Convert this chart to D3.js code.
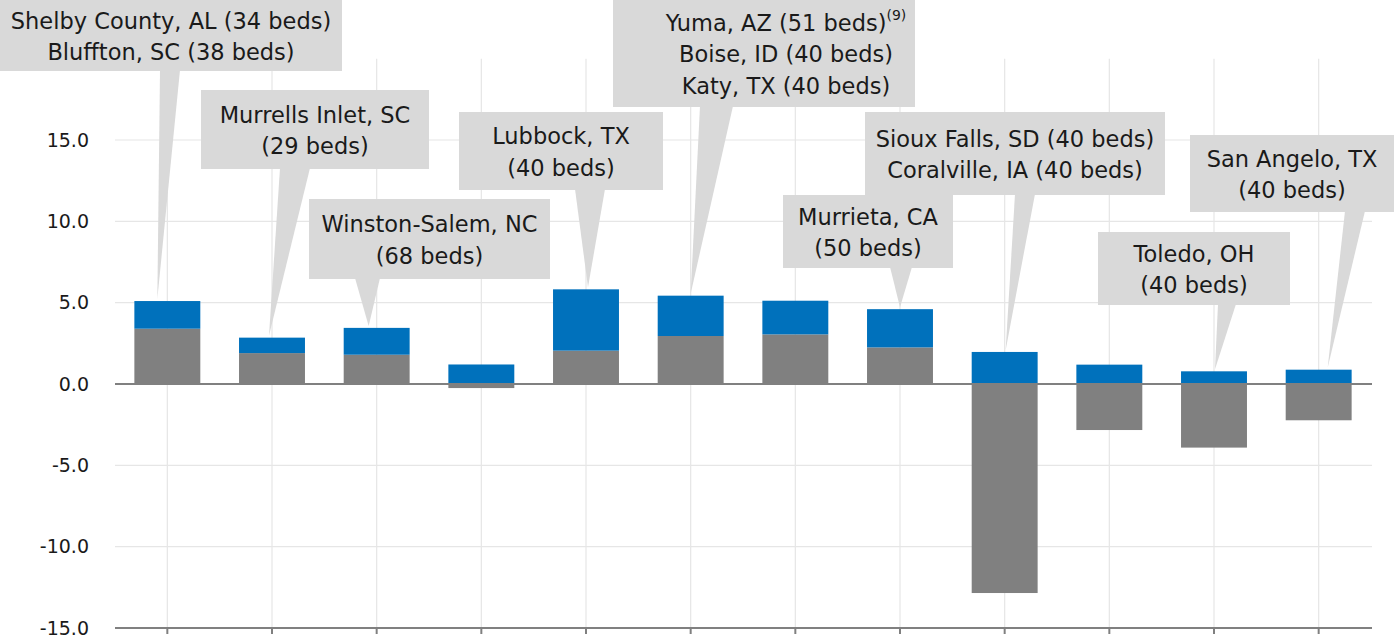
<!DOCTYPE html>
<html><head><meta charset="utf-8">
<script src="https://cdn.jsdelivr.net/npm/d3@7"></script>
<style>
html,body{margin:0;padding:0;background:#fff;}
svg{display:block;}
</style></head>
<body>
<svg id="chart" width="1400" height="638"></svg>
<script>
// ---- data ----
const categories = ["Shelby County / Bluffton","Murrells Inlet","Winston-Salem","Bar 4","Lubbock","Yuma / Boise / Katy","Bar 7","Murrieta","Sioux Falls / Coralville","Bar 10","Toledo","San Angelo"];
const grayValues = [3.4, 1.9, 1.8, -0.25, 2.05, 2.95, 3.05, 2.25, -12.85, -2.83, -3.91, -2.23];
const blueValues = [1.7, 0.95, 1.65, 1.2, 3.77, 2.48, 2.07, 2.35, 1.97, 1.19, 0.78, 0.88];
const yTicks = [-15, -10, -5, 0, 5, 10, 15];
const calloutBar = [0, 1, 2, 4, 5, 7, 8, 10, 11];
const calloutText = [
  ["Shelby County, AL (34 beds)", "Bluffton, SC (38 beds)"],
  ["Murrells Inlet, SC", "(29 beds)"],
  ["Winston-Salem, NC", "(68 beds)"],
  ["Lubbock, TX", "(40 beds)"],
  ["Yuma, AZ (51 beds)|(9)", "Boise, ID (40 beds)", "Katy, TX (40 beds)"],
  ["Murrieta, CA", "(50 beds)"],
  ["Sioux Falls, SD (40 beds)", "Coralville, IA (40 beds)"],
  ["Toledo, OH", "(40 beds)"],
  ["San Angelo, TX", "(40 beds)"]
];

// ---- layout (annotation placement, not data) ----
const calloutLayout = [
  {x:0,   y:0,   w:342, h:71,  b1:160,  b2:180,  dx:-10, tdx:0},
  {x:201, y:90,  w:228, h:79,  b1:280,  b2:310,  dx:-3,  tdx:0},
  {x:309, y:199, w:241, h:80,  b1:355,  b2:380,  dx:-8,  tdx:0},
  {x:459, y:112, w:204, h:78,  b1:575,  b2:605,  dx:2,   tdx:0},
  {x:613, y:0,   w:302, h:107, b1:700,  b2:733,  dx:0,   tdx:22},
  {x:783, y:195, w:170, h:73,  b1:890,  b2:912,  dx:0,   tdx:0},
  {x:865, y:112, w:300, h:83,  b1:1015, b2:1035, dx:1,   tdx:0},
  {x:1098,y:232, w:192, h:73,  b1:1218, b2:1236, dx:1,   tdx:0},
  {x:1190,y:135, w:204, h:77,  b1:1345, b2:1365, dx:9,   tdx:0}
];

const FONT = "'DejaVu Sans',sans-serif";
const BLUE = "#0071bc", GRAY = "#808080", CALL = "#d9d9d9", TXT = "#1a1a1a";

const svg = d3.select("#chart");
const x = d3.scaleBand().domain(d3.range(categories.length)).range([115, 1371]).paddingInner(0.37).paddingOuter(0.185);
const y = d3.scaleLinear().domain([-15, 15]).range([628, 140]);

// gridlines
const grid = svg.append("g");
grid.selectAll("line.h").data(yTicks.filter(t => t !== 0 && t !== -15)).join("line")
  .attr("x1", 115).attr("x2", 1372).attr("y1", d => y(d)).attr("y2", d => y(d))
  .attr("stroke", "#e6e6e6").attr("stroke-width", 1.2);
grid.selectAll("line.v").data(d3.range(categories.length)).join("line")
  .attr("x1", i => x(i) + x.bandwidth()/2).attr("x2", i => x(i) + x.bandwidth()/2)
  .attr("y1", y(20)).attr("y2", y(-15))
  .attr("stroke", "#e6e6e6").attr("stroke-width", 1.2);

// y axis labels
const yAxis = d3.axisLeft(y).tickValues(yTicks).tickFormat(d => d.toFixed(1)).tickSize(0).tickPadding(0);
const ya = svg.append("g").attr("transform", "translate(89,0)").call(yAxis);
ya.select(".domain").remove();
ya.selectAll("text").attr("font-family", FONT).attr("font-size", 19).attr("fill", TXT);

// bottom axis
const xAxis = d3.axisBottom(x).tickSize(6).tickFormat("").tickSizeOuter(0);
const xa = svg.append("g").attr("transform", `translate(0,${y(-15)})`).call(xAxis);
xa.select(".domain").attr("stroke", GRAY).attr("stroke-width", 2).attr("d", "M115,0H1372");
xa.selectAll(".tick line").attr("stroke", GRAY).attr("stroke-width", 2);

// callouts
const cg = svg.append("g");
calloutBar.forEach((bi, k) => {
  const L = calloutLayout[k];
  const top = Math.max(0, grayValues[bi]) + blueValues[bi];
  const tx = x(bi) + x.bandwidth()/2 + L.dx;
  const ty = y(top) - 2;
  cg.append("path")
    .attr("d", `M${L.b1},${L.y + L.h - 1}L${L.b2},${L.y + L.h - 1}L${tx},${ty}Z`)
    .attr("fill", CALL);
  cg.append("rect").attr("x", L.x).attr("y", L.y).attr("width", L.w).attr("height", L.h).attr("fill", CALL);
  const lines = calloutText[k];
  const lh = 31.5;
  const cy = L.y + L.h/2 + 1;
  lines.forEach((ln, j) => {
    const yy = cy + (j - (lines.length - 1)/2) * lh;
    const t = cg.append("text").attr("x", L.x + L.w/2 + L.tdx).attr("y", yy)
      .attr("dy", "0.35em").attr("text-anchor", "middle")
      .attr("font-family", FONT).attr("font-size", 22.5).attr("fill", TXT);
    const parts = ln.split("|");
    t.append("tspan").text(parts[0]);
    if (parts[1]) t.append("tspan").attr("font-size", 14).attr("dy", "-0.75em").text(parts[1]);
  });
});

// bars
const bars = svg.append("g");
bars.selectAll("rect.g").data(grayValues).join("rect")
  .attr("x", (d, i) => x(i)).attr("width", x.bandwidth())
  .attr("y", d => y(Math.max(0, d))).attr("height", d => Math.abs(y(d) - y(0)))
  .attr("fill", GRAY);
bars.selectAll("rect.b").data(blueValues).join("rect")
  .attr("x", (d, i) => x(i)).attr("width", x.bandwidth())
  .attr("y", (d, i) => y(Math.max(0, grayValues[i]) + d))
  .attr("height", (d, i) => y(Math.max(0, grayValues[i])) - y(Math.max(0, grayValues[i]) + d))
  .attr("fill", BLUE);

// zero line
svg.append("line").attr("x1", 115).attr("x2", 1372).attr("y1", y(0)).attr("y2", y(0))
  .attr("stroke", GRAY).attr("stroke-width", 2);
</script>
</body></html>
